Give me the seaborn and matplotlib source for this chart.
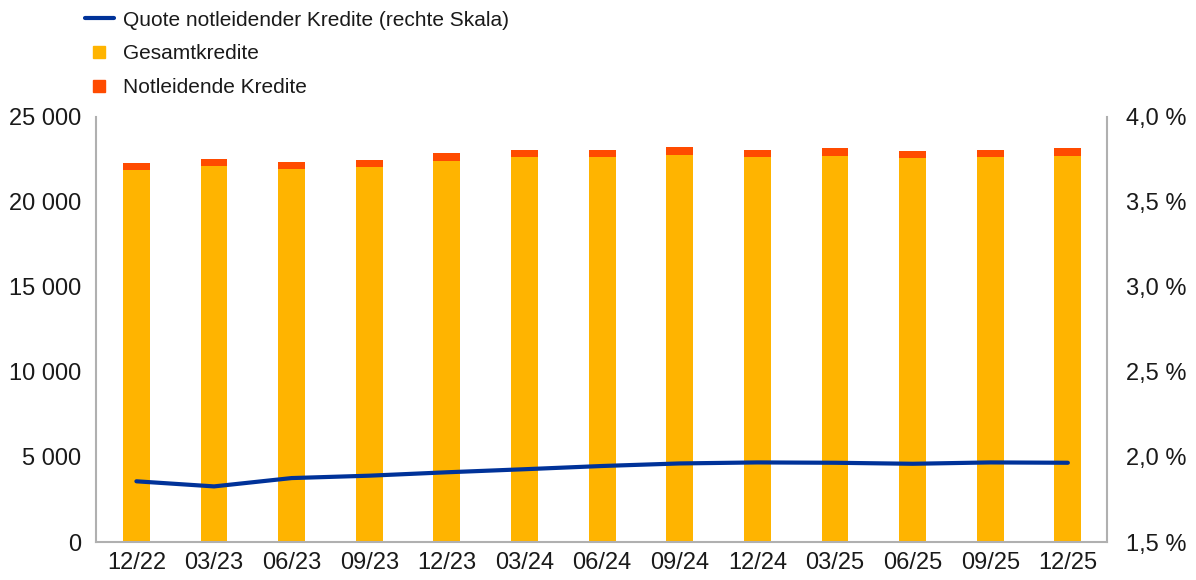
import numpy as np
import pandas as pd
import matplotlib
matplotlib.use("Agg")
import matplotlib.pyplot as plt
import seaborn as sns
from matplotlib.lines import Line2D
from matplotlib.ticker import FuncFormatter

# Daten
quartale = ["12/22", "03/23", "06/23", "09/23", "12/23", "03/24", "06/24",
            "09/24", "12/24", "03/25", "06/25", "09/25", "12/25"]
gesamtkredite = [21870, 22140, 21920, 22040, 22410, 22640, 22630,
                 22760, 22630, 22690, 22570, 22630, 22690]
notleidende = [410, 410, 420, 420, 440, 440, 450, 460, 450, 460, 450, 450, 460]
npl_quote = [1.857, 1.827, 1.876, 1.890, 1.910, 1.928, 1.947,
             1.962, 1.968, 1.966, 1.960, 1.968, 1.966]

ORANGE = "#FFB400"
ROT = "#FF4B00"
BLAU = "#003299"
GRAU = "#B0B0B0"
TEXT = "#1A1A1A"

sns.set_style("white")
plt.rcParams["font.family"] = ["Liberation Sans", "DejaVu Sans"]

df = pd.DataFrame({
    "quartal": quartale,
    "gesamt": gesamtkredite,
    "summe": np.array(gesamtkredite) + np.array(notleidende),
    "quote": npl_quote,
    "pos": np.arange(len(quartale)),
})

fig = plt.figure(figsize=(11.96, 5.8), dpi=100)
ax = fig.add_axes([0.0803, 0.0655, 0.845, 0.733])

# gestapelte Balken: zuerst Summe (rot), darüber Gesamtkredite (orange)
sns.barplot(data=df, x="quartal", y="summe", color=ROT, width=0.345,
            saturation=1, linewidth=0, ax=ax)
sns.barplot(data=df, x="quartal", y="gesamt", color=ORANGE, width=0.345,
            saturation=1, linewidth=0, ax=ax)

ax.set_xlim(-0.52, 12.5)
ax.set_ylim(0, 25000)
ax.set_yticks(range(0, 25001, 5000))
ax.yaxis.set_major_formatter(FuncFormatter(lambda v, p: f"{int(v):,}".replace(",", " ")))
ax.set_xlabel("")
ax.set_ylabel("")
ax.tick_params(axis="both", length=0, labelsize=17, colors=TEXT)
ax.tick_params(axis="y", pad=11)
ax.tick_params(axis="x", pad=7)

ax2 = ax.twinx()
sns.lineplot(data=df, x="pos", y="quote", color=BLAU, linewidth=3, ax=ax2)
ax2.set_ylim(1.5, 4.0)
ax2.set_yticks(np.arange(1.5, 4.01, 0.5))
ax2.yaxis.set_major_formatter(FuncFormatter(lambda v, p: f"{v:.1f} %".replace(".", ",")))
ax2.set_ylabel("")
ax2.set_xlabel("")
ax2.tick_params(axis="y", length=0, labelsize=17, colors=TEXT, pad=14)

for a in (ax, ax2):
    a.spines["top"].set_visible(False)
    for s in ("left", "right", "bottom"):
        a.spines[s].set_color(GRAU)
        a.spines[s].set_linewidth(1.5)
ax.spines["right"].set_visible(False)
ax2.spines["left"].set_visible(False)
ax2.spines["bottom"].set_visible(False)

handles = [
    Line2D([], [], color=BLAU, linewidth=3),
    Line2D([], [], color=ORANGE, marker="s", linestyle="none", markersize=8),
    Line2D([], [], color=ROT, marker="s", linestyle="none", markersize=8),
]
labels = ["Quote notleidender Kredite (rechte Skala)", "Gesamtkredite", "Notleidende Kredite"]
fig.legend(handles, labels, loc="upper left", bbox_to_anchor=(0.0553, 1.014),
           frameon=False, fontsize=15, handlelength=1.4, handletextpad=0.45,
           labelspacing=0.7, labelcolor=TEXT)

fig.savefig("out.png", dpi=100)
